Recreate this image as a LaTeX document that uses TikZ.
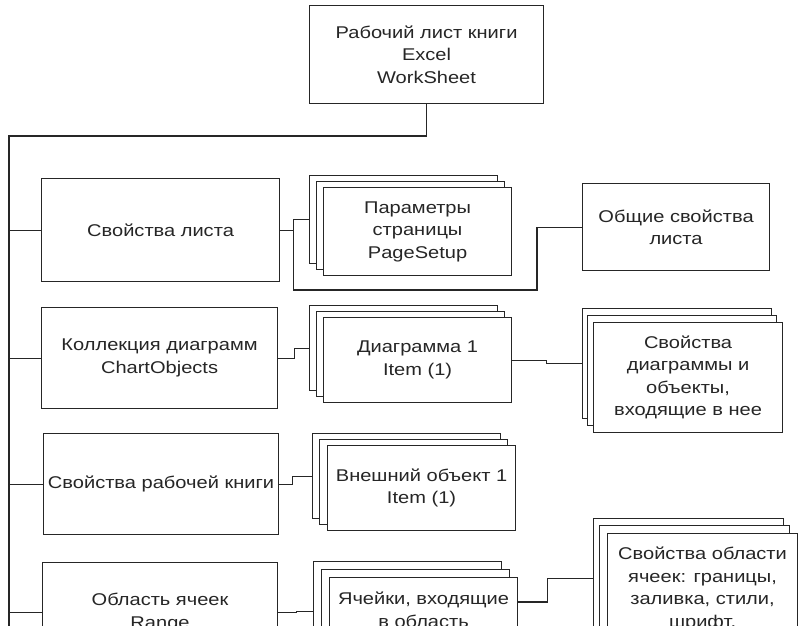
\documentclass[tikz,border=0pt]{standalone}
\usepackage{fontspec}
\setmainfont[FakeStretch=1.18]{Liberation Sans}
\usetikzlibrary{calc}
\begin{document}
\begin{tikzpicture}[x=1pt,y=-1pt,
  box/.style={draw=black!85, line width=1.1pt, fill=white, inner sep=0pt,
    anchor=north west, align=center, text=black!85,
    font=\fontsize{17}{22.5}\selectfont},
  txt/.style={inner sep=0pt, align=center, text=black!85,
    font=\fontsize{17}{22.5}\selectfont},
  conn/.style={draw=black!85, line width=1.1pt},
  sa/.style={box, minimum width=188pt, minimum height=88pt},
  sb/.style={box, minimum width=188pt, minimum height=85pt},
  main/.style={box, minimum width=236pt, minimum height=102pt}]
\useasboundingbox (0,0) rectangle (807,625);
\clip (0,0) rectangle (807,625);
\fill[white] (0,0) rectangle (807,625);

% top box
\node[box, minimum width=234pt, minimum height=98pt] (top) at (309,5)
  {Рабочий лист книги\\Excel\\WorkSheet};

% left column
\node[main, minimum width=238pt, minimum height=103pt] (b1) at (41,178) {Свойства листа};
\node[main, minimum height=101pt] (b2) at (41,307) {Коллекция диаграмм\\ChartObjects};
\node[main, minimum width=235pt, minimum height=101pt] (b3) at (43,433) {Свойства рабочей книги};
\node[main, minimum width=235pt, minimum height=100pt] (b4) at (42,562) {Область ячеек\\Range};

% stack 1
\node[sa] (s1c) at (309,175) {};
\node[sa] (s1b) at (316,181) {};
\node[sa] (s1a) at (323,187) {Параметры\\страницы\\PageSetup};

% stack 2
\node[sb] (s2c) at (309,305) {};
\node[sb] (s2b) at (316,311) {};
\node[sb] (s2a) at (323,317) {Диаграмма 1\\Item (1)};

% stack 3
\node[sb] (s3c) at (312,433) {};
\node[sb] (s3b) at (319,439) {};
\node[sb] (s3a) at (327,445) {Внешний объект 1\\Item (1)};

% stack 4
\node[box, minimum width=188pt, minimum height=100pt] (s4c) at (313,561) {};
\node[box, minimum width=188pt, minimum height=100pt] (s4b) at (321,569) {};
\node[box, minimum width=188pt, minimum height=100pt] (s4a) at (329,577) {};
\node[txt] (s4t) at ($(s4a.north)+(0,33)$) {Ячейки, входящие\\в область};

% right column
\node[box, minimum width=187pt, minimum height=87pt] (g1) at (582,183) {Общие свойства\\листа};

\node[box, minimum width=189pt, minimum height=110pt] (g2c) at (582,308) {};
\node[box, minimum width=189pt, minimum height=110pt] (g2b) at (587,315) {};
\node[box, minimum width=189pt, minimum height=110pt] (g2a) at (593,322)
  {Свойства\\диаграммы и\\объекты,\\входящие в нее};

\node[box, minimum width=190pt, minimum height=120pt] (g3c) at (593,518) {};
\node[box, minimum width=190pt, minimum height=120pt] (g3b) at (599,525) {};
\node[box, minimum width=190pt, minimum height=120pt] (g3a) at (607,533) {};
\node[txt] (g3t) at ($(g3a.north)+(0,56)$)
  {Свойства области\\ячеек: границы,\\заливка, стили,\\шрифт,};

% trunk
\coordinate (tj) at (9,136);
\coordinate (tb) at (9,640);
\draw[conn] (top.south) |- (tj) -- (tb);
\foreach \b in {b1,b2,b3,b4} \draw[conn] (\b.west -| tj) -- (\b.west);

% row connectors
\coordinate (l1) at (537,290);
\draw[conn] (b1.east) -- ++(13,0) |- (s1c.west);
\draw[conn] (b1.east) -- ++(13,0) |- (l1) |- (g1.west);
\draw[conn] (b2.east) -- ++(16,0) |- (s2c.west);
\draw[conn] (s2a.east) -- ++(34,0) |- (g2c.west);
\draw[conn] (b3.east) -- ++(13,0) |- (s3c.west);
\draw[conn] (b4.east) -- ++(18,0) |- (s4c.west);
\draw[conn] ([yshift=-25pt]s4a.north east) -- ++(29,0) |- (g3c.west);
\end{tikzpicture}
\end{document}
